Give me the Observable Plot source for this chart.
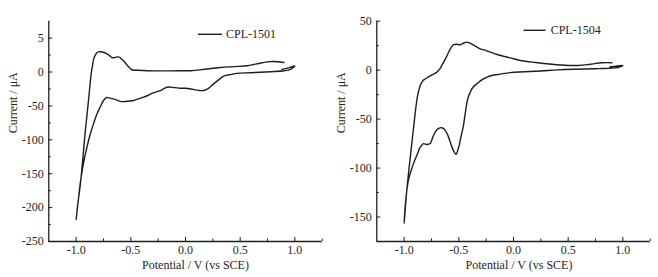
<!DOCTYPE html>
<html><head><meta charset="utf-8">
<script src="https://cdn.jsdelivr.net/npm/d3@7"></script>
<script src="https://cdn.jsdelivr.net/npm/@observablehq/plot@0.6"></script>
<style>
body{margin:0;background:#fff;}
#wrap{display:flex;width:658px;height:277px;overflow:hidden;}
</style></head><body><div id="wrap"></div>
<script>
// CPL-1501 cyclic voltammogram, points in scan order
const potential1501 = [0.88,0.95,1.0,0.96,0.9,0.78,0.6,0.47,0.42,0.35,0.3,0.257,0.21,0.166,0.12,0.05,0.0,-0.05,-0.1,-0.17,-0.23,-0.3,-0.35,-0.384,-0.43,-0.475,-0.505,-0.55,-0.597,-0.65,-0.69,-0.72,-0.75,-0.78,-0.81,-0.84,-0.87,-0.9,-0.925,-0.948,-0.965,-0.979,-0.99,-1.0,-0.985,-0.963,-0.94,-0.918,-0.9,-0.887,-0.875,-0.863,-0.85,-0.84,-0.825,-0.81,-0.795,-0.78,-0.76,-0.72,-0.69,-0.673,-0.645,-0.613,-0.59,-0.567,-0.54,-0.521,-0.5,-0.484,-0.45,-0.35,-0.2,-0.05,0.05,0.15,0.319,0.45,0.563,0.65,0.746,0.8,0.9];
const current1501 = [4,6.5,9,4,1.9,0.5,-1,-2,-3.5,-6,-12,-17.5,-24,-27.3,-27,-25,-24,-23.9,-23,-22.4,-27.3,-31,-35,-37,-39.5,-42,-42.8,-43.5,-43.3,-40,-38.5,-37.5,-42,-51.6,-62,-75.8,-91,-110,-128,-148.7,-167,-187.6,-203,-218,-195,-168,-130,-90,-62,-41.8,-22,-3,10,19,25,28.6,29.8,30,29.5,27,23.5,21.3,21.5,22.3,20,16.5,11.5,7.7,4.5,3,2.7,2,1.7,1.8,2,3.5,6.7,8,9.2,12,15,15.5,14];

// CPL-1504 cyclic voltammogram, points in scan order
const potential1504 = [0.88,0.95,1.0,0.96,0.9,0.75,0.55,0.4,0.25,0.1,-0.03,-0.12,-0.2,-0.242,-0.29,-0.334,-0.37,-0.395,-0.415,-0.43,-0.445,-0.46,-0.48,-0.495,-0.51,-0.524,-0.54,-0.563,-0.594,-0.62,-0.655,-0.69,-0.716,-0.74,-0.762,-0.79,-0.823,-0.853,-0.88,-0.915,-0.94,-0.961,-0.98,-0.991,-1.0,-0.98,-0.955,-0.93,-0.91,-0.895,-0.875,-0.853,-0.83,-0.807,-0.78,-0.74,-0.7,-0.675,-0.655,-0.62,-0.59,-0.565,-0.548,-0.52,-0.487,-0.46,-0.426,-0.39,-0.35,-0.304,-0.25,-0.212,-0.15,-0.03,0.063,0.2,0.35,0.5,0.6,0.7,0.808,0.9];
const current1504 = [3.3,4.2,4.8,3,2.2,1.5,1,0.3,-0.8,-1.7,-2.5,-4,-5.5,-7.1,-10,-13.9,-17.5,-22.4,-28,-36,-47,-58,-68,-76,-82,-86,-84,-78.6,-68.4,-62,-58.8,-60,-63.3,-69,-75,-76,-75.1,-78.6,-86,-95.5,-104,-112.6,-127,-139.8,-156.7,-128,-100,-75,-55,-40,-25,-16,-11,-9,-7,-4.5,-2,1,4.8,12,19,24,26,26.5,25.9,27.5,28.6,27,24.5,21.8,20,18.5,16,12.5,9.9,7.8,6,4.8,4.8,6,7.6,7.6];

const xTicks = [-1.0,-0.5,0,0.5,1.0];
const xTickLabels = ["-1.0","-0.5","0.0","0.5","1.0"];
const xMinorTicks = [-0.75,-0.25,0.25,0.75,1.25];

const yTicks1501 = [50,0,-50,-100,-150,-200,-250];
const yTickLabels1501 = ["5","0","-50","-100","-150","-200","-250"];
const yMinor1501 = [25,-25,-75,-125,-175,-225];

const yTicks1504 = [50,0,-50,-100,-150];
const yTickLabels1504 = ["50","0","-50","-100","-150"];
const yMinor1504 = [25,-25,-75,-125];

const ink = "#1e1e1e";
const serif = "'Liberation Serif','Times New Roman',serif";

function panel({name, V, I, yDomain, yTicks, yLabels, yMinor, marginLeft, marginRight, legend}) {
  const W = 329, H = 277, mt = 20.7, mb = 36;
  const fw = W - marginLeft - marginRight, fh = H - mt - mb;
  const fmtX = d => xTickLabels[xTicks.findIndex(t => Math.abs(t - d) < 1e-9)];
  const fmtY = d => yLabels[yTicks.indexOf(d)];
  const idx = d3.range(V.length);
  const plot = Plot.plot({
    width: W, height: H, marginLeft, marginRight, marginTop: mt, marginBottom: mb,
    style: {fontFamily: serif, fontSize: "12px", color: ink, background: "#fff"},
    x: {domain: [-1.25, 1.25], label: null},
    y: {domain: yDomain, label: null},
    marks: [
      Plot.axisX(xTicks, {tickSize: 0, tickPadding: 4, tickFormat: fmtX, label: null, fill: ink, fontSize: 12}),
      Plot.axisY(yTicks, {tickSize: 0, tickPadding: 5, tickFormat: fmtY, label: null, fill: ink, fontSize: 12}),
      Plot.tickX(xTicks, {x: d => d, insetTop: fh - 4, stroke: ink, strokeWidth: 1}),
      Plot.tickX(xMinorTicks, {x: d => d, insetTop: fh - 2.5, stroke: ink, strokeWidth: 1}),
      Plot.tickY(yTicks, {y: d => d, insetRight: fw - 4, stroke: ink, strokeWidth: 1}),
      Plot.tickY(yMinor, {y: d => d, insetRight: fw - 2.5, stroke: ink, strokeWidth: 1}),
      Plot.ruleX([-1.25], {stroke: ink, strokeWidth: 1.3}),
      Plot.ruleY([yDomain[0]], {stroke: ink, strokeWidth: 1.3}),
      Plot.line(idx, {x: i => V[i], y: i => I[i], stroke: ink, strokeWidth: 1.4, curve: "catmull-rom"}),
      Plot.text(["Potential / V (vs SCE)"], {frameAnchor: "bottom", dx: legend.xLabelDx, dy: 27, fill: ink, fontSize: 12}),
      Plot.text(["Current / \u03bcA"], {frameAnchor: "left", rotate: -90, dx: -36, dy: 2, fill: ink, fontSize: 12})
    ]
  });
  const svg = d3.select(plot);
  svg.append("line")
    .attr("x1", legend.x1).attr("x2", legend.x2).attr("y1", legend.y).attr("y2", legend.y)
    .attr("stroke", ink).attr("stroke-width", 1.4);
  svg.append("text")
    .attr("x", legend.tx).attr("y", legend.y).attr("dy", "0.32em")
    .attr("text-anchor", "start").style("text-anchor", "start")
    .attr("font-family", serif).attr("fill", ink).attr("font-size", 12).text(name);
  return plot;
}

const wrap = document.getElementById("wrap");
wrap.append(panel({
  name: "CPL-1501", V: potential1501, I: current1501, yDomain: [-250, 75],
  yTicks: yTicks1501, yLabels: yTickLabels1501, yMinor: yMinor1501,
  marginLeft: 48.3, marginRight: 7.3,
  legend: {x1: 198, x2: 222, y: 34.3, tx: 226, xLabelDx: 10}
}));
wrap.append(panel({
  name: "CPL-1504", V: potential1504, I: current1504, yDomain: [-175, 50],
  yTicks: yTicks1504, yLabels: yTickLabels1504, yMinor: yMinor1504,
  marginLeft: 47.3, marginRight: 8.3,
  legend: {x1: 194.5, x2: 216.5, y: 30.3, tx: 221.7, xLabelDx: 5.5}
}));
</script></body></html>
